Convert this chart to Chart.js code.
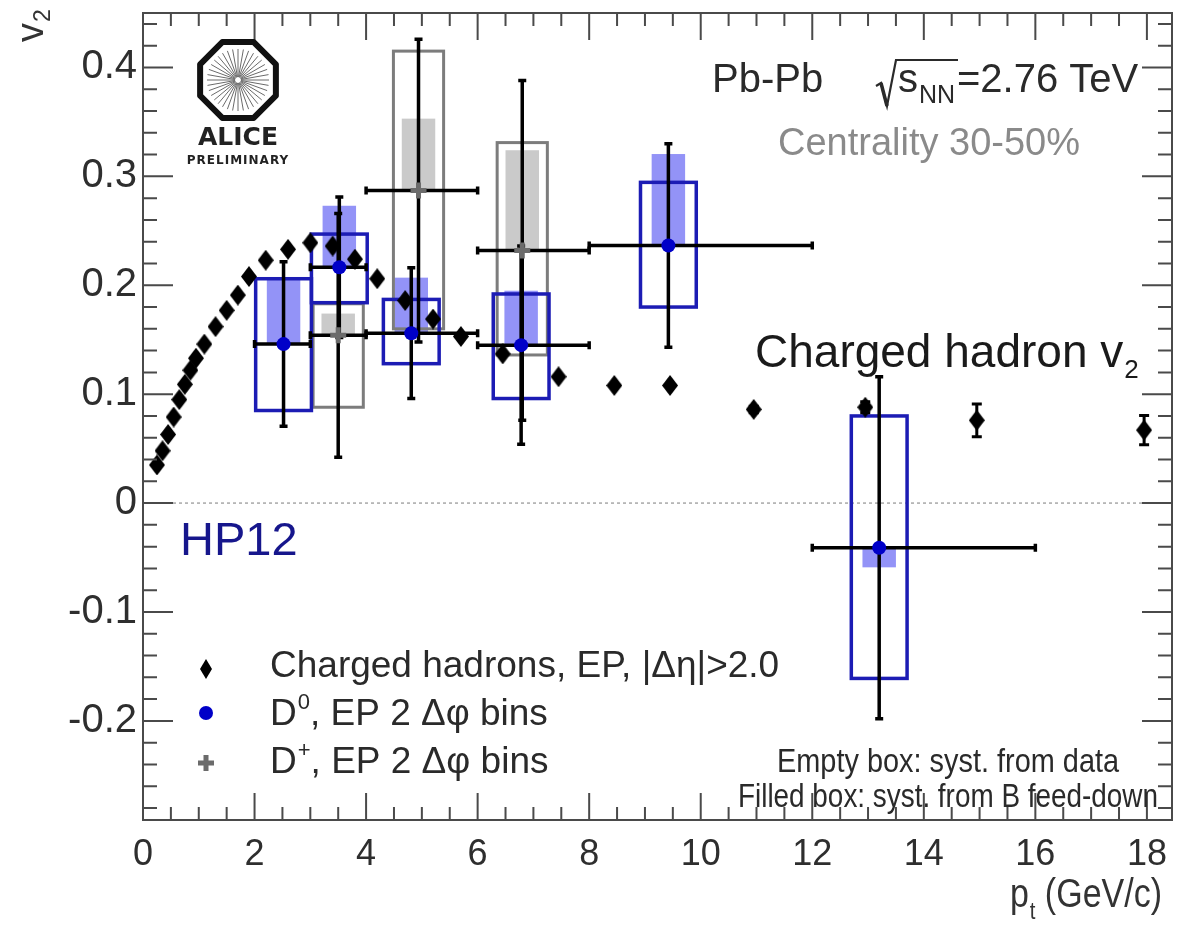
<!DOCTYPE html>
<html>
<head>
<meta charset="utf-8">
<script src="https://cdn.jsdelivr.net/npm/chart.js@4.4.1/dist/chart.umd.min.js"></script>
<style>
  html, body { margin: 0; padding: 0; background: #fff; }
  #wrap { width: 1187px; height: 930px; }
</style>
</head>
<body>
<div id="wrap"><canvas id="c" width="1187" height="930"></canvas></div>
<script>
// ---- Charged hadron v2 (EP, |Δη| > 2.0) ----
const hadronPt  = [0.25, 0.35, 0.45, 0.55, 0.65, 0.75, 0.85, 0.95, 1.1, 1.3, 1.5, 1.7, 1.9, 2.2, 2.6, 3.0,
                   3.4, 3.8, 4.2, 4.7, 5.2, 5.7, 6.45, 7.45, 8.45, 9.45, 10.95, 12.95, 14.95, 17.95];
const hadronV2  = [0.035, 0.048, 0.063, 0.079, 0.095, 0.109, 0.122, 0.133, 0.146, 0.162, 0.177, 0.191, 0.208, 0.223, 0.233, 0.239,
                   0.236, 0.224, 0.206, 0.186, 0.169, 0.153, 0.137, 0.116, 0.108, 0.108, 0.086, 0.088, 0.076, 0.067];
const hadronErr = [0, 0, 0, 0, 0, 0, 0, 0, 0, 0, 0, 0, 0, 0, 0, 0,
                   0, 0, 0, 0, 0, 0, 0, 0, 0, 0, 0.003, 0.005, 0.015, 0.0135];

// ---- D0 v2 (EP, 2 Δφ bins) ----
const d0Pt       = [2.52, 3.52, 4.81, 6.78, 9.42, 13.2];
const d0PtLow    = [2, 3, 4, 6, 8, 12];
const d0PtHigh   = [3, 4, 6, 8, 12, 16];
const d0V2       = [0.146, 0.2165, 0.156, 0.145, 0.2365, -0.041];
const d0Stat     = [0.0755, 0.0645, 0.060, 0.091, 0.0935, 0.157];
const d0SystLow  = [0.085, 0.184, 0.128, 0.096, 0.180, -0.161];
const d0SystHigh = [0.206, 0.247, 0.187, 0.192, 0.2945, 0.080];
const d0FeedLow  = [0.146, 0.2165, 0.156, 0.145, 0.2365, -0.059];
const d0FeedHigh = [0.206, 0.273, 0.207, 0.195, 0.3205, -0.041];

// ---- D+ v2 (EP, 2 Δφ bins) ----
const dpPt       = [3.5, 4.94, 6.8];
const dpPtLow    = [3, 4, 6];
const dpPtHigh   = [4, 6, 8];
const dpV2       = [0.154, 0.287, 0.232];
const dpStat     = [0.112, 0.139, 0.156];
const dpSystLow  = [0.088, 0.160, 0.136];
const dpSystHigh = [0.183, 0.415, 0.331];
const dpFeedLow  = [0.154, 0.287, 0.232];
const dpFeedHigh = [0.174, 0.353, 0.324];

// ---- axes ----
const xTickValues = [0, 2, 4, 6, 8, 10, 12, 14, 16, 18];
const yTickValues = [-0.2, -0.1, 0, 0.1, 0.2, 0.3, 0.4];
const xRange = [0, 18.45];
const yRange = [-0.291, 0.45];

const FONT = '"Liberation Sans", Arial, Helvetica, sans-serif';
const BLUE = '#0000c8';
const BOX_BLUE = '#1c1cb4';
const FILL_BLUE = 'rgba(128,128,246,0.85)';
const BOX_GREY = '#7c7c7c';
const FILL_GREY = 'rgba(196,196,196,0.9)';

function diamondImage(w, h, color) {
  const c = document.createElement('canvas');
  c.width = w; c.height = h;
  const g = c.getContext('2d');
  g.fillStyle = color;
  g.beginPath();
  g.moveTo(w / 2, 0); g.lineTo(w, h / 2); g.lineTo(w / 2, h); g.lineTo(0, h / 2);
  g.closePath(); g.fill();
  return c;
}
const hadronMarker = diamondImage(16, 21, '#000');

function pts(xs, ys) { return xs.map((v, i) => ({ x: v, y: ys[i] })); }

// boxes, error bars and the zero line, under the markers
const errorDecor = {
  id: 'errorDecor',
  beforeDatasetsDraw(chart) {
    const { ctx, chartArea: a, scales: { x, y } } = chart;
    const X = v => x.getPixelForValue(v), Y = v => y.getPixelForValue(v);
    ctx.save();
    ctx.beginPath(); ctx.rect(a.left, a.top, a.right - a.left, a.bottom - a.top); ctx.clip();

    // dotted zero line
    ctx.strokeStyle = '#a8a8a8'; ctx.lineWidth = 1.5; ctx.setLineDash([3, 3]);
    ctx.beginPath(); ctx.moveTo(a.left, Y(0)); ctx.lineTo(a.right, Y(0)); ctx.stroke();
    ctx.setLineDash([]);

    const fillBox = (xc, hw, lo, hi, col) => {
      ctx.fillStyle = col;
      ctx.fillRect(X(xc - hw), Y(hi), X(xc + hw) - X(xc - hw), Y(lo) - Y(hi));
    };
    const strokeBox = (xc, hw, lo, hi, col, lw) => {
      ctx.strokeStyle = col; ctx.lineWidth = lw;
      ctx.strokeRect(X(xc - hw), Y(hi), X(xc + hw) - X(xc - hw), Y(lo) - Y(hi));
    };

    // B feed-down systematics (filled)
    dpPt.forEach((p, i) => fillBox(p, 0.3, dpFeedLow[i], dpFeedHigh[i], FILL_GREY));
    d0Pt.forEach((p, i) => fillBox(p, 0.3, d0FeedLow[i], d0FeedHigh[i], FILL_BLUE));
    // data systematics (empty)
    dpPt.forEach((p, i) => strokeBox(p, 0.45, dpSystLow[i], dpSystHigh[i], BOX_GREY, 3));
    d0Pt.forEach((p, i) => strokeBox(p, 0.5, d0SystLow[i], d0SystHigh[i], BOX_BLUE, 3.5));

    // statistical error bars
    ctx.strokeStyle = '#000'; ctx.lineWidth = 3.5; ctx.lineCap = 'butt';
    const vbar = (xc, lo, hi, cap) => {
      ctx.beginPath();
      ctx.moveTo(X(xc), Y(lo)); ctx.lineTo(X(xc), Y(hi));
      ctx.moveTo(X(xc) - cap, Y(lo)); ctx.lineTo(X(xc) + cap, Y(lo));
      ctx.moveTo(X(xc) - cap, Y(hi)); ctx.lineTo(X(xc) + cap, Y(hi));
      ctx.stroke();
    };
    const hbar = (yc, lo, hi, cap) => {
      ctx.beginPath();
      ctx.moveTo(X(lo), Y(yc)); ctx.lineTo(X(hi), Y(yc));
      ctx.moveTo(X(lo), Y(yc) - cap); ctx.lineTo(X(lo), Y(yc) + cap);
      ctx.moveTo(X(hi), Y(yc) - cap); ctx.lineTo(X(hi), Y(yc) + cap);
      ctx.stroke();
    };
    dpPt.forEach((p, i) => { vbar(p, dpV2[i] - dpStat[i], dpV2[i] + dpStat[i], 4); hbar(dpV2[i], dpPtLow[i], dpPtHigh[i], 4); });
    d0Pt.forEach((p, i) => { vbar(p, d0V2[i] - d0Stat[i], d0V2[i] + d0Stat[i], 4); hbar(d0V2[i], d0PtLow[i], d0PtHigh[i], 4); });
    ctx.lineWidth = 3;
    hadronPt.forEach((p, i) => { if (hadronErr[i] > 0) vbar(p, hadronV2[i] - hadronErr[i], hadronV2[i] + hadronErr[i], 5); });
    ctx.restore();
  }
};

function drawSub(ctx, base, sub, x, yb, f1, f2, dy) {
  ctx.font = f1; ctx.fillText(base, x, yb);
  const w = ctx.measureText(base).width;
  ctx.font = f2; ctx.fillText(sub, x + w + 1, yb + dy);
  return x + w + 1 + ctx.measureText(sub).width;
}

// frame, inward ticks on all four sides, labels, legend and logo
const frameAndText = {
  id: 'frameAndText',
  afterDraw(chart) {
    const { ctx, chartArea: a, scales: { x, y } } = chart;
    ctx.save();
    // frame
    ctx.strokeStyle = '#4a4a4a'; ctx.lineWidth = 2;
    ctx.strokeRect(a.left, a.top, a.right - a.left, a.bottom - a.top);
    // x ticks every 0.5, major every 2
    ctx.beginPath();
    for (let k = 0; k * 0.5 <= xRange[1] + 1e-9; k++) {
      const v = k * 0.5, px = x.getPixelForValue(v);
      const L = (k % 4 === 0) ? 27 : 13;
      ctx.moveTo(px, a.bottom); ctx.lineTo(px, a.bottom - L);
      ctx.moveTo(px, a.top); ctx.lineTo(px, a.top + L);
    }
    // y ticks every 0.02, major every 0.1
    for (let k = Math.ceil(yRange[0] / 0.02 - 1e-6); k * 0.02 <= yRange[1] + 1e-9; k++) {
      const v = k * 0.02, py = y.getPixelForValue(v);
      const L = (Math.abs(k) % 5 === 0) ? 30 : 14;
      ctx.moveTo(a.left, py); ctx.lineTo(a.left + L, py);
      ctx.moveTo(a.right, py); ctx.lineTo(a.right - L, py);
    }
    ctx.stroke();

    ctx.textBaseline = 'alphabetic'; ctx.textAlign = 'left';

    // y axis title v2 (rotated)
    ctx.save();
    ctx.translate(43, 42); ctx.rotate(-Math.PI / 2);
    ctx.fillStyle = '#333';
    drawSub(ctx, 'v', '2', 0, 0, `38px ${FONT}`, `23px ${FONT}`, 7);
    ctx.restore();

    // x axis title p_t (GeV/c)
    ctx.save();
    ctx.fillStyle = '#333';
    ctx.translate(1010, 907); ctx.scale(0.85, 1);
    let xe = drawSub(ctx, 'p', 't', 0, 0, `40px ${FONT}`, `24px ${FONT}`, 12);
    ctx.font = `40px ${FONT}`; ctx.fillText(' (GeV/c)', xe, 0);
    ctx.restore();

    // collision system
    ctx.fillStyle = '#2a2a2a';
    ctx.font = `40px ${FONT}`; ctx.fillText('Pb-Pb', 712, 92);
    ctx.strokeStyle = '#2a2a2a'; ctx.lineWidth = 2.2; ctx.lineJoin = 'miter';
    ctx.beginPath();
    ctx.moveTo(876, 86); ctx.lineTo(881, 83); ctx.lineTo(887, 106); ctx.lineTo(896, 60); ctx.lineTo(958, 60);
    ctx.stroke();
    ctx.lineWidth = 3.5; ctx.beginPath(); ctx.moveTo(881, 83); ctx.lineTo(887, 106); ctx.stroke();
    ctx.font = `40px ${FONT}`; ctx.fillText('s', 898, 92);
    ctx.font = `25px ${FONT}`; ctx.fillText('NN', 919, 103);
    ctx.font = `40px ${FONT}`; ctx.fillText('=2.76 TeV', 957, 92);

    ctx.fillStyle = '#8a8a8a';
    ctx.font = `38px ${FONT}`; ctx.fillText('Centrality 30-50%', 778, 155);

    // annotations
    ctx.fillStyle = '#1a1a1a';
    drawSub(ctx, 'Charged hadron v', '2', 755, 367, `46px ${FONT}`, `26px ${FONT}`, 11);
    ctx.fillStyle = '#16168c';
    ctx.font = `47px ${FONT}`; ctx.fillText('HP12', 180, 555);

    // systematics notes
    ctx.fillStyle = '#2a2a2a';
    ctx.save(); ctx.translate(777, 772); ctx.scale(0.85, 1);
    ctx.font = `34px ${FONT}`; ctx.fillText('Empty box: syst. from data', 0, 0);
    ctx.restore();
    ctx.save(); ctx.translate(738, 807); ctx.scale(0.82, 1);
    ctx.font = `34px ${FONT}`; ctx.fillText('Filled box: syst. from B feed-down', 0, 0);
    ctx.restore();

    // legend
    const ds = chart.data.datasets;
    ctx.fillStyle = '#000';
    ctx.beginPath(); ctx.moveTo(206, 659); ctx.lineTo(212, 669); ctx.lineTo(206, 679); ctx.lineTo(200, 669); ctx.closePath(); ctx.fill();
    ctx.fillStyle = BLUE; ctx.beginPath(); ctx.arc(206, 713, 7, 0, Math.PI * 2); ctx.fill();
    ctx.strokeStyle = '#6b6b6b'; ctx.lineWidth = 5;
    ctx.beginPath(); ctx.moveTo(198, 763); ctx.lineTo(214, 763); ctx.moveTo(206, 755); ctx.lineTo(206, 771); ctx.stroke();
    ctx.fillStyle = '#2a2a2a';
    ctx.font = `37px ${FONT}`; ctx.fillText(ds[0].label, 270, 677);
    let xl = drawSub(ctx, 'D', '0', 270, 725, `37px ${FONT}`, `22px ${FONT}`, -16);
    ctx.font = `37px ${FONT}`; ctx.fillText(ds[1].label.replace(/^D0/, ''), xl, 725);
    xl = drawSub(ctx, 'D', '+', 270, 773, `37px ${FONT}`, `22px ${FONT}`, -16);
    ctx.font = `37px ${FONT}`; ctx.fillText(ds[2].label.replace(/^D\+/, ''), xl, 773);

    // ALICE Preliminary logo
    const cx = 238, cy = 80, R = 41;
    ctx.strokeStyle = '#111'; ctx.lineWidth = 6; ctx.lineJoin = 'round';
    ctx.beginPath();
    for (let i = 0; i < 8; i++) {
      const ang = Math.PI / 8 + i * Math.PI / 4;
      const px = cx + R * Math.cos(ang), py = cy + R * Math.sin(ang);
      if (i) ctx.lineTo(px, py); else ctx.moveTo(px, py);
    }
    ctx.closePath(); ctx.stroke();
    ctx.strokeStyle = '#6a6a6a'; ctx.lineWidth = 1;
    for (let i = 0; i < 36; i++) {
      const ang = i * Math.PI / 18;
      ctx.beginPath();
      ctx.moveTo(cx + 3 * Math.cos(ang), cy + 3 * Math.sin(ang));
      ctx.lineTo(cx + 31 * Math.cos(ang), cy + 31 * Math.sin(ang));
      ctx.stroke();
    }
    ctx.fillStyle = '#222'; ctx.textAlign = 'center';
    ctx.font = `bold 25px "DejaVu Sans", ${FONT}`; ctx.fillText('ALICE', cx, 145);
    ctx.font = `bold 12px "DejaVu Sans", ${FONT}`;
    ctx.letterSpacing = '1px';
    ctx.fillText('PRELIMINARY', cx, 164);
    ctx.letterSpacing = '0px';
    ctx.restore();
  }
};

new Chart(document.getElementById('c'), {
  type: 'scatter',
  data: {
    datasets: [
      { label: 'Charged hadrons, EP, |Δη|>2.0', data: pts(hadronPt, hadronV2),
        pointStyle: hadronMarker, pointRadius: 9, backgroundColor: '#000', borderColor: '#000' },
      { label: 'D0, EP 2 Δφ bins', data: pts(d0Pt, d0V2),
        pointStyle: 'circle', pointRadius: 7, backgroundColor: BLUE, borderColor: BLUE, borderWidth: 0 },
      { label: 'D+, EP 2 Δφ bins', data: pts(dpPt, dpV2),
        pointStyle: 'cross', pointRadius: 8, borderColor: '#6b6b6b', borderWidth: 5 }
    ]
  },
  options: {
    responsive: false,
    animation: false,
    events: [],
    devicePixelRatio: 1,
    layout: { padding: { top: 10, right: 15, left: 0, bottom: 0 } },
    plugins: { legend: { display: false }, tooltip: { enabled: false } },
    scales: {
      x: {
        type: 'linear', min: xRange[0], max: xRange[1],
        grid: { display: false, drawTicks: false }, border: { display: false },
        afterBuildTicks: s => { s.ticks = xTickValues.map(v => ({ value: v })); },
        afterFit: s => { s.height = 110; s.paddingLeft = 0; s.paddingRight = 0; },
        ticks: { color: '#2e2e2e', padding: 13, maxRotation: 0, autoSkip: false,
                 font: { family: FONT, size: 36 }, callback: v => String(v) }
      },
      y: {
        type: 'linear', min: yRange[0], max: yRange[1],
        grid: { display: false, drawTicks: false }, border: { display: false },
        afterBuildTicks: s => { s.ticks = yTickValues.map(v => ({ value: v })); },
        afterFit: s => { s.width = 143; s.paddingTop = 0; s.paddingBottom = 0; },
        ticks: { color: '#2e2e2e', padding: 6, autoSkip: false,
                 font: { family: FONT, size: 40 },
                 callback: v => (Math.abs(v) < 1e-9 ? '0' : v.toFixed(1)) }
      }
    }
  },
  plugins: [errorDecor, frameAndText]
});
</script>
</body>
</html>
